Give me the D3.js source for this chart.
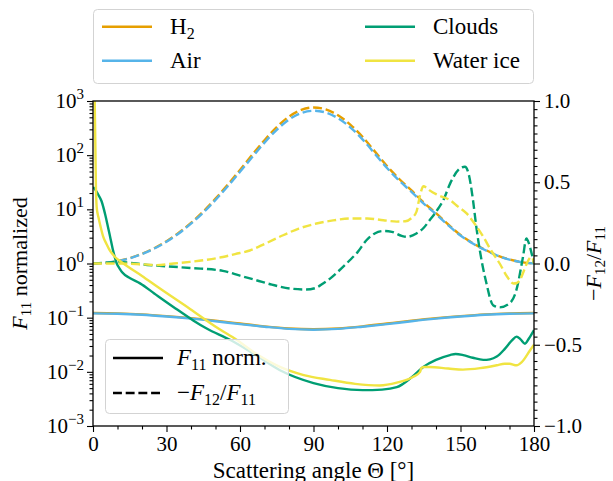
<!DOCTYPE html>
<html><head><meta charset="utf-8">
<script src="https://cdn.jsdelivr.net/npm/d3@7"></script>
<style>
body{margin:0;background:#fff;}
svg{display:block;}
svg text{font-family:"Liberation Serif","Times New Roman",serif !important;fill:#000;}
</style></head>
<body><svg id="c" width="613" height="481"></svg>
<script>
// ---------- data ----------
const seriesNames = ["H\u2082", "Air", "Clouds", "Water ice"];
const seriesColors = ["#E69F00", "#56B4E9", "#009E73", "#F0E442"];

// Rayleigh-like species: F11 (normalized) on 10-degree grid
const rayTheta = [0,10,20,30,40,50,60,70,80,90,100,110,120,130,140,150,160,170,180];
const h2F11  = [0.122,0.120,0.115,0.107,0.098,0.088,0.078,0.069,0.063,0.061,0.063,0.069,0.078,0.088,0.098,0.107,0.115,0.120,0.122];
const airF11 = [0.120,0.118,0.113,0.105,0.096,0.086,0.076,0.068,0.062,0.060,0.062,0.068,0.076,0.086,0.096,0.105,0.113,0.118,0.120];

// -F12/F11 on 5-degree grid
const polTheta = [0,5,10,15,20,25,30,35,40,45,50,55,60,65,70,75,80,85,90,95,100,105,110,115,120,125,130,135,140,145,150,155,160,165,170,175,180];
const h2Pol  = [0,0.004,0.015,0.033,0.060,0.094,0.137,0.189,0.250,0.320,0.399,0.485,0.576,0.669,0.759,0.840,0.904,0.945,0.960,0.948,0.912,0.855,0.780,0.690,0.600,0.520,0.450,0.375,0.310,0.240,0.175,0.125,0.085,0.050,0.025,0.008,0];
const airPol = [0,0.004,0.014,0.032,0.058,0.092,0.134,0.185,0.245,0.313,0.391,0.475,0.564,0.655,0.744,0.823,0.886,0.926,0.940,0.929,0.894,0.838,0.764,0.676,0.588,0.510,0.441,0.368,0.304,0.235,0.172,0.123,0.083,0.049,0.024,0.008,0];

// Clouds
const cloudF11Theta = [0,1,2,3.5,5,6,7,8,9.7,11,12,15,19.2,25,32.8,40.9,46.4,55.9,65,76.3,90,100,110,118,124,130,134.8,140,145.7,148,151.1,155,159.3,162,164.8,168,171,172.9,174.5,176.3,178,180];
const cloudF11 = [25.7,22.9,19.1,14.1,7.94,5.0,3.09,1.9,1.0,0.79,0.68,0.54,0.43,0.28,0.158,0.089,0.063,0.039,0.0224,0.0107,0.0062,0.0050,0.0046,0.0047,0.0052,0.0079,0.0123,0.0166,0.0204,0.0214,0.0204,0.0182,0.0166,0.0170,0.0191,0.0263,0.038,0.0447,0.0398,0.0331,0.0417,0.0589];
const cloudPolTheta = [0,5,10,15,20,25,32.8,40,53,60,66.7,73,80.3,87,91,93.9,97,100,104.8,108,111.6,115,118.5,122,126,128,132,135,137.4,141,143,145.7,149.8,151.8,153.5,155.1,156.5,157.9,160.6,163.3,166,170,172.8,175.5,176.9,178,178.9,180];
const cloudPol = [0,0.005,0.01,0.005,-0.005,-0.012,-0.02,-0.028,-0.045,-0.075,-0.103,-0.13,-0.154,-0.16,-0.15,-0.123,-0.09,-0.05,0.02,0.07,0.143,0.185,0.2,0.195,0.17,0.164,0.185,0.22,0.266,0.34,0.39,0.49,0.585,0.595,0.54,0.39,0.22,0.08,-0.123,-0.257,-0.27,-0.246,-0.164,0.04,0.154,0.12,0.07,0];

// Water ice
const iceF11Theta = [0,0.7,1.2,1.5,2.2,3,4.2,5.5,6.8,9,12.4,20,26,39.6,51.2,58.6,66,76.3,86,96.7,107,117,124,130.7,133.5,134,135,137.4,145,151,158,164.8,168,170,172.9,175,178.4,180];
const iceF11 = [3162,1000,25,11,7.2,5.0,3.1,2.3,1.76,1.32,1.0,0.59,0.38,0.145,0.063,0.039,0.0224,0.0123,0.0087,0.0071,0.006,0.0056,0.0063,0.0081,0.0100,0.0117,0.0123,0.0123,0.0115,0.0110,0.0117,0.0132,0.0141,0.0141,0.0132,0.0151,0.025,0.0316];
const icePolTheta = [0,10,20,26,33,39.6,46,53,58,64,70,77.6,84,91.2,98,104.9,112,118.5,124,127.5,130,132,133.5,134.8,136,137.4,141,145.7,149,152.5,156,159.3,162.5,166,169,171.6,173,174.3,176,177.7,178.7,179.5,180];
const icePol = [0,0,-0.005,-0.01,0,0.01,0.022,0.04,0.058,0.08,0.12,0.174,0.215,0.246,0.265,0.277,0.277,0.266,0.258,0.26,0.28,0.318,0.42,0.475,0.468,0.45,0.42,0.39,0.35,0.308,0.24,0.164,0.08,0,-0.08,-0.123,-0.12,-0.1,-0.04,0.02,0.04,0.03,0];

const xTicks = [0,30,60,90,120,150,180];
const yLeftExp = [-3,-2,-1,0,1,2,3];
const yRightTicks = [-1.0,-0.5,0.0,0.5,1.0];

// ---------- layout ----------
const svg = d3.select("#c");
const L = 93, R = 534, T = 101, B = 426;
const x = d3.scaleLinear().domain([0,180]).range([L,R]);
const yL = d3.scaleLog().domain([1e-3,1e3]).range([B,T]);
const yR = d3.scaleLinear().domain([-1,1]).range([B,T]);
const minus = s => s.replace(/-/g,"\u2212");

svg.append("defs").append("clipPath").attr("id","clip")
  .append("rect").attr("x",L).attr("y",T).attr("width",R-L).attr("height",B-T);

const plot = svg.append("g").attr("clip-path","url(#clip)");
const lw = 2.4, dash = "8.9,3.8";
const lineL = d3.line().x(d=>x(d[0])).y(d=>yL(d[1])).curve(d3.curveMonotoneX);
const lineR = d3.line().x(d=>x(d[0])).y(d=>yR(d[1])).curve(d3.curveMonotoneX);
const zip = (a,b) => a.map((v,i)=>[v,b[i]]);

const series = [
  {f: zip(rayTheta,h2F11), p: zip(polTheta,h2Pol)},
  {f: zip(rayTheta,airF11), p: zip(polTheta,airPol)},
  {f: zip(cloudF11Theta,cloudF11), p: zip(cloudPolTheta,cloudPol)},
  {f: zip(iceF11Theta,iceF11), p: zip(icePolTheta,icePol)}
];
series.forEach((s,i)=>{
  plot.append("path").attr("d",lineL(s.f)).attr("fill","none")
    .attr("stroke",seriesColors[i]).attr("stroke-width",lw).attr("stroke-linejoin","round");
  plot.append("path").attr("d",lineR(s.p)).attr("fill","none")
    .attr("stroke",seriesColors[i]).attr("stroke-width",lw).attr("stroke-dasharray",dash);
});

// ---------- axes ----------
const tickFont = 21;
const gx = svg.append("g").attr("transform",`translate(0,${B})`)
  .call(d3.axisBottom(x).tickValues(xTicks).tickSize(6).tickSizeOuter(0).tickPadding(4));
svg.append("g").attr("transform",`translate(0,${B})`)
  .call(d3.axisBottom(x).tickValues(d3.range(0,181,10).filter(v=>v%30)).tickSize(3.5).tickFormat("").tickSizeOuter(0));
gx.selectAll("text").attr("font-size",tickFont);
svg.append("g").attr("transform",`translate(${L},0)`)
  .call(d3.axisLeft(yL).tickValues(yLeftExp.map(e=>Math.pow(10,e))).tickSize(6).tickSizeOuter(0).tickFormat(""));
const minorL = [];
for (let e=-3;e<3;e++) for (let m=2;m<10;m++) minorL.push(m*Math.pow(10,e));
svg.append("g").attr("transform",`translate(${L},0)`)
  .call(d3.axisLeft(yL).tickValues(minorL).tickSize(3.5).tickSizeOuter(0).tickFormat(""));
yLeftExp.forEach(e=>{
  const t = svg.append("text").attr("x",84).attr("y",yL(Math.pow(10,e))+7)
    .attr("text-anchor","end").attr("font-size",tickFont);
  t.append("tspan").text("10");
  t.append("tspan").attr("dy",-9).attr("font-size",15).text(minus(String(e)));
});
const gr = svg.append("g").attr("transform",`translate(${R},0)`)
  .call(d3.axisRight(yR).tickValues(yRightTicks).tickSize(6).tickSizeOuter(0).tickPadding(4)
    .tickFormat(d=>minus(d3.format(".1f")(d))));
const minorR = d3.range(-19,20).filter(v=>v%10!==0).map(v=>v*0.05);
svg.append("g").attr("transform",`translate(${R},0)`)
  .call(d3.axisRight(yR).tickValues(minorR).tickSize(3.5).tickFormat("").tickSizeOuter(0));
gr.selectAll("text").attr("font-size",tickFont);
svg.selectAll(".domain").remove();
svg.selectAll(".tick line").attr("stroke","#000").attr("stroke-width",1.1);
svg.append("rect").attr("x",L).attr("y",T).attr("width",R-L).attr("height",B-T)
  .attr("fill","none").attr("stroke","#000").attr("stroke-width",1.3);

// axis labels
const lab = svg.append("text").attr("transform",`translate(27,${(T+B)/2}) rotate(-90)`)
  .attr("text-anchor","middle").attr("font-size",22);
lab.append("tspan").attr("font-style","italic").text("F");
lab.append("tspan").attr("font-size",15).attr("dy",4).text("11");
lab.append("tspan").attr("dy",-4).text(" normalized");

const labR = svg.append("text").attr("transform",`translate(601,${(T+B)/2}) rotate(-90)`)
  .attr("text-anchor","middle").attr("font-size",22);
labR.append("tspan").text("\u2212");
labR.append("tspan").attr("font-style","italic").text("F");
labR.append("tspan").attr("font-size",15).attr("dy",4).text("12");
labR.append("tspan").attr("dy",-4).text("/");
labR.append("tspan").attr("font-style","italic").text("F");
labR.append("tspan").attr("font-size",15).attr("dy",4).text("11");

svg.append("text").attr("x",(L+R)/2).attr("y",478).attr("text-anchor","middle")
  .attr("font-size",23).text("Scattering angle \u0398 [\u00b0]");

// ---------- top legend ----------
svg.append("rect").attr("x",93.5).attr("y",9.5).attr("width",440).attr("height",74).attr("rx",4)
  .attr("fill","#fff").attr("stroke","#d3d3d3").attr("stroke-width",1);
const legPos = [[102,26.7],[102,60.7],[365,26.7],[365,60.7]];
seriesNames.forEach((n,i)=>{
  const [lx,ly] = legPos[i];
  svg.append("line").attr("x1",lx).attr("x2",lx+50).attr("y1",ly).attr("y2",ly)
    .attr("stroke",seriesColors[i]).attr("stroke-width",lw);
  const t = svg.append("text").attr("x",lx+68).attr("y",ly+7.5).attr("font-size",23);
  if (i===0){ t.append("tspan").text("H"); t.append("tspan").attr("font-size",16).attr("dy",5).text("2"); }
  else t.text(n);
});

// ---------- bottom legend ----------
svg.append("rect").attr("x",105.5).attr("y",339.5).attr("width",183).attr("height",74).attr("rx",4)
  .attr("fill","#fff").attr("fill-opacity",0.8).attr("stroke","#d3d3d3").attr("stroke-width",1);
svg.append("line").attr("x1",113).attr("x2",163).attr("y1",358).attr("y2",358).attr("stroke","#000").attr("stroke-width",lw);
svg.append("line").attr("x1",113).attr("x2",163).attr("y1",393).attr("y2",393).attr("stroke","#000").attr("stroke-width",lw).attr("stroke-dasharray",dash);
const t1 = svg.append("text").attr("x",177).attr("y",365).attr("font-size",23);
t1.append("tspan").attr("font-style","italic").text("F");
t1.append("tspan").attr("font-size",16).attr("dy",5).text("11");
t1.append("tspan").attr("dy",-5).text(" norm.");
const t2 = svg.append("text").attr("x",177).attr("y",400).attr("font-size",23);
t2.append("tspan").text("\u2212");
t2.append("tspan").attr("font-style","italic").text("F");
t2.append("tspan").attr("font-size",16).attr("dy",5).text("12");
t2.append("tspan").attr("dy",-5).text("/");
t2.append("tspan").attr("font-style","italic").text("F");
t2.append("tspan").attr("font-size",16).attr("dy",5).text("11");
</script></body></html>
